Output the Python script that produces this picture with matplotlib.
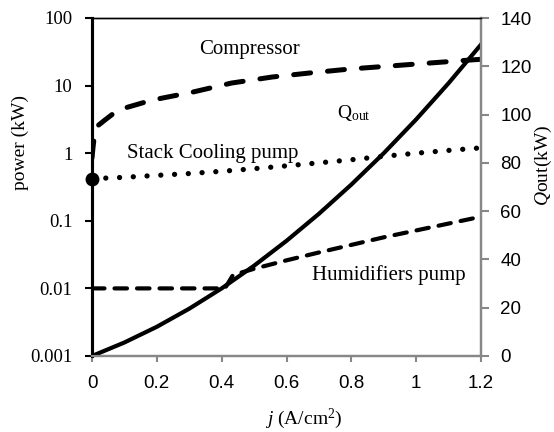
import matplotlib
matplotlib.use("Agg")
import matplotlib.pyplot as plt

plt.rcParams["font.family"] = "Liberation Serif"
plt.rcParams["mathtext.fontset"] = "custom"
plt.rcParams["mathtext.rm"] = "Liberation Serif"
plt.rcParams["mathtext.it"] = "Liberation Serif:italic"

# current density (A/cm2) and power / heat values
j_comp = [0, 0.003, 0.006, 0.01, 0.02, 0.04, 0.08, 0.185, 0.31, 0.43, 0.556,
          0.673, 0.796, 0.92, 1.043, 1.167, 1.2]
p_comp = [0.85, 1.2, 1.6, 2.1, 2.6, 3.1, 4.35, 6.1, 8.0, 10.9, 13.4,
          15.4, 17.6, 19.5, 21.6, 23.9, 24.5]

j_cool = [0, 0.1, 0.2, 0.3, 0.4, 0.5, 0.6, 0.7, 0.8, 0.9, 1.0, 1.1, 1.2]
p_cool = [0.42, 0.44, 0.47, 0.5, 0.54, 0.59, 0.65, 0.72, 0.8, 0.9, 1.0, 1.1, 1.2]

j_hum = [0, 0.1, 0.2, 0.3, 0.41, 0.435, 0.5, 0.6, 0.7, 0.8, 0.9, 1.0, 1.1, 1.2]
p_hum = [0.01, 0.01, 0.01, 0.01, 0.01, 0.0158, 0.0195, 0.026, 0.034, 0.044,
         0.057, 0.072, 0.091, 0.115]

j_q = [0, 0.1, 0.2, 0.3, 0.4, 0.5, 0.6, 0.7, 0.8, 0.9, 1.0, 1.1, 1.2]
q_out = [0, 5.6, 12.1, 19.6, 28, 37.4, 47.7, 58.9, 71, 84, 98, 113, 129]

x_ticks = [0, 0.2, 0.4, 0.6, 0.8, 1, 1.2]
x_tick_labels = ["0", "0.2", "0.4", "0.6", "0.8", "1", "1.2"]
left_ticks = [0.001, 0.01, 0.1, 1, 10, 100]
left_tick_labels = ["0.001", "0.01", "0.1", "1", "10", "100"]
right_ticks = [0, 20, 40, 60, 80, 100, 120, 140]

gray = "#878787"

fig = plt.figure(figsize=(5.54, 4.32), dpi=100)
ax = fig.add_axes([92 / 554, 76 / 432, 389 / 554, 338 / 432])
ax2 = ax.twinx()

ax.plot(j_comp, p_comp, color="black", lw=3.6, dashes=(3.4, 3.4),
        dash_capstyle="round", solid_capstyle="round")
ax.plot(j_cool, p_cool, color="black", lw=3.8, dashes=(0.01, 2.6),
        dash_capstyle="round")
ax.plot([j_cool[0]], [p_cool[0]], "o", color="black", ms=9, clip_on=False)
ax.plot(j_hum, p_hum, color="black", lw=3.0, dashes=(3.0, 2.4),
        dash_capstyle="round")
ax2.plot(j_q, q_out, color="black", lw=3.0)

ax.set_yscale("log")
ax.set_xlim(0, 1.2)
ax.set_ylim(0.001, 100)
ax2.set_ylim(0, 140)

ax.set_xticks(x_ticks)
ax.set_xticklabels(x_tick_labels, family="Liberation Sans", fontsize=13.5)
ax.set_yticks(left_ticks)
ax.set_yticklabels(left_tick_labels, fontsize=13.5)
ax.minorticks_off()
ax2.set_yticks(right_ticks)
ax2.set_yticklabels([str(v) for v in right_ticks], family="Liberation Sans",
                    fontsize=13.5)

ax.tick_params(axis="y", direction="out", length=5, width=1.5, color="black", pad=9)
ax.tick_params(axis="x", direction="out", length=4, width=1.5, color=gray, pad=10)
ax2.tick_params(axis="y", direction="out", length=6, width=1.5, color=gray, pad=8)

for a in (ax, ax2):
    a.spines["left"].set_color("black")
    a.spines["left"].set_linewidth(2.2)
    a.spines["top"].set_color("black")
    a.spines["top"].set_linewidth(1.0)
    a.spines["bottom"].set_color(gray)
    a.spines["bottom"].set_linewidth(1.6)
    a.spines["right"].set_color(gray)
    a.spines["right"].set_linewidth(1.6)

ax.text(0.33, 34, "Compressor", fontsize=15, va="center")
ax.text(0.755, 4.0, r"Q$_{\mathrm{out}}$", fontsize=14, va="center")
ax.text(0.108, 1.0, "Stack Cooling pump", fontsize=15, va="center")
ax.text(0.68, 0.0155, "Humidifiers pump", fontsize=15, va="center")

fig.text(20 / 554, 1 - 142 / 432, "power (kW)", rotation=90, fontsize=14,
         ha="center", va="center")
fig.text(543 / 554, 1 - 165 / 432, r"$Q$out(kW)", rotation=90, fontsize=14,
         ha="center", va="center")
fig.text(304 / 554, 1 - 419 / 432, r"$j$ (A/cm$^2$)", fontsize=14,
         ha="center", va="center")

fig.savefig("out.png", dpi=100)
